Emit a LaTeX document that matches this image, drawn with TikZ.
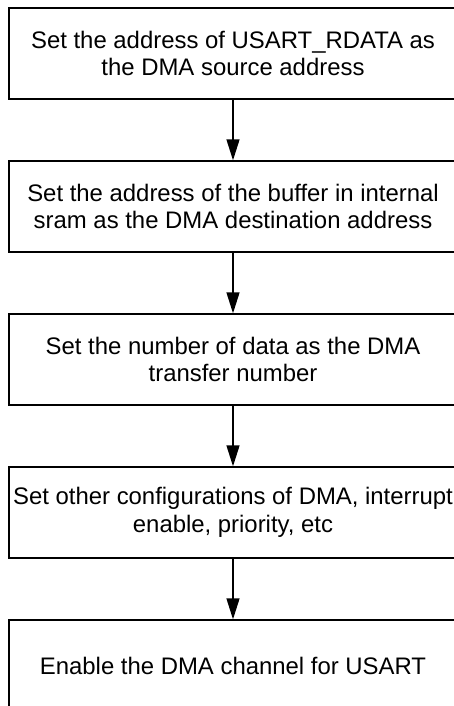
\documentclass[tikz,border=0pt]{standalone}
\usepackage{fontspec}
\setmainfont{Liberation Sans}
\usetikzlibrary{arrows.meta}
\begin{document}
\begin{tikzpicture}[x=1pt,y=-1pt,
  stepbox/.style={draw, line width=1.4pt, minimum width=448pt, minimum height=91pt,
    align=center, inner sep=0pt, font=\fontsize{23.9}{27.5}\selectfont},
  flow/.style={-{Triangle[length=21pt,width=13pt]}, line width=1.4pt}]
\useasboundingbox (0,0) rectangle (454,706);
\clip (0,0) rectangle (454,706);
\node[stepbox] (s1) at (233,53.5) {Set the address of USART\_RDATA as\\the DMA source address};
\node[stepbox] (s2) at (233,206.5) {Set the address of the buffer in internal\\sram as the DMA destination address};
\node[stepbox] (s3) at (233,359.5) {Set the number of data as the DMA\\transfer number};
\node[stepbox] (s4) at (233,512.5) {Set other configurations of DMA, interrupt\\enable, priority, etc};
\node[stepbox] (s5) at (233,665.5) {Enable the DMA channel for USART};
\draw[flow] (s1) -- (s2);
\draw[flow] (s2) -- (s3);
\draw[flow] (s3) -- (s4);
\draw[flow] (s4) -- (s5);
\end{tikzpicture}
\end{document}
